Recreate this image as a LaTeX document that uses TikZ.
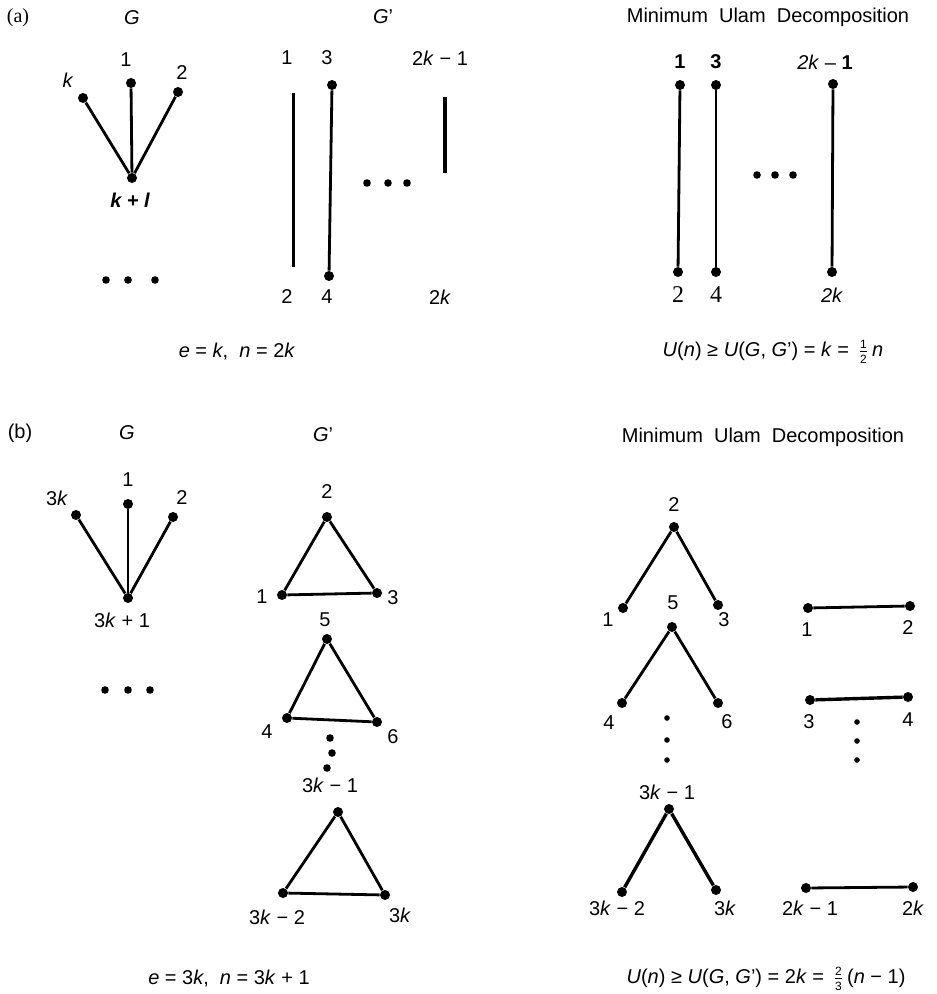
\documentclass[tikz,border=0pt]{standalone}
\usepackage{fontspec}
\setmainfont{Liberation Sans}
\newfontfamily\serifnum{Liberation Serif}
\usepackage{tikz}
\usetikzlibrary{positioning}
\newcommand{\tfr}[2]{\hspace{1.5pt}$\frac{\mbox{\fontsize{6}{6}\selectfont #1}}{\mbox{\fontsize{6}{6}\selectfont #2}}$\hspace{1.5pt}}

\begin{document}
\begin{tikzpicture}[x=0.5pt,y=-0.5pt,font=\fontsize{10}{12}\selectfont,
    vtx/.style={circle, fill=black, inner sep=0pt, minimum size=5pt},
    dotv/.style={circle, fill=black, inner sep=0pt, minimum size=3.8pt},
    sdot/.style={circle, fill=black, inner sep=0pt, minimum size=2.8pt},
    lbl/.style={inner sep=0pt},
    edg/.style={line width=1.4pt}]
  \useasboundingbox (0,0) rectangle (936,994);
  % ---------- (a) headings ----------
  \node[lbl] (alab) at (18,18)  {\serifnum (a)};
  \node[lbl] (aG)   at (132,18) {\textit{G}};
  \node[lbl] (aGp)  at (383,17) {\textit{G}'};
  \node[lbl] (amud) at (768,17) {Minimum\ \ Ulam\ \ Decomposition};
  % ---------- (a) G: star ----------
  \node[vtx] (ac) at (132,178) {};
  \node[vtx] (ak) at (83,98)   {};
  \node[vtx] (a1) at (131,83)  {};
  \node[vtx] (a2) at (178,92)  {};
  \draw[edg] (ak) -- (ac);
  \draw[edg] (a1) -- (ac);
  \draw[edg] (a2) -- (ac);
  \node[lbl] (akl) at (68,80)   {\textit{k}};
  \node[lbl] (a1l) at (126,60)  {1};
  \node[lbl] (a2l) at (182,73)  {2};
  \node[lbl] (acl) at (130,200) {\bfseries\itshape k + l};
  \node[dotv] (ad1) at (106,280) {};
  \node[dotv] (ad2) at (128,280) {};
  \node[dotv] (ad3) at (155,280) {};
  % ---------- (a) G': matching ----------
  \coordinate (g12t) at (293,93);
  \coordinate (g12b) at (293,267);
  \draw[line width=1.5pt] (g12t) -- (g12b);
  \node[lbl] (g1l) at (287,58)  {1};
  \node[lbl] (g2l) at (287,297) {2};
  \node[vtx] (g3) at (332,85)  {};
  \node[vtx] (g4) at (329,276) {};
  \draw[edg] (g3) -- (g4);
  \node[lbl] (g3l) at (327,58)  {3};
  \node[lbl] (g4l) at (327,297) {4};
  \coordinate (gkt) at (445,97);
  \coordinate (gkb) at (445,173);
  \draw[line width=1.7pt] (gkt) -- (gkb);
  \node[lbl] (gk1l) at (440,58)  {2\textit{k} − 1};
  \node[lbl] (gkl)  at (440,297) {2\textit{k}};
  \node[dotv] (gd1) at (367,183) {};
  \node[dotv] (gd2) at (388,183) {};
  \node[dotv] (gd3) at (407,183) {};
  % ---------- (a) decomposition ----------
  \node[vtx] (m1)  at (680,85)  {};
  \node[vtx] (m2)  at (678,272) {};
  \node[vtx] (m3)  at (716,85)  {};
  \node[vtx] (m4)  at (716,272) {};
  \node[vtx] (mk1) at (833,84)  {};
  \node[vtx] (mk)  at (832,272) {};
  \draw[edg] (m1) -- (m2);
  \draw[edg] (m3) -- (m4);
  \draw[edg] (mk1) -- (mk);
  \node[lbl] (m1l)  at (680,62)  {\textbf{1}};
  \node[lbl] (m3l)  at (716,62)  {\textbf{3}};
  \node[lbl] (mk1l) at (825,62)  {\textit{2k} – \textbf{1}};
  \node[lbl] (m2l)  at (678,295) {\serifnum\fontsize{12}{12}\selectfont 2};
  \node[lbl] (m4l)  at (716,295) {\serifnum\fontsize{12}{12}\selectfont 4};
  \node[lbl] (mkl)  at (832,295) {\textit{2k}};
  \node[dotv] (md1) at (757,175) {};
  \node[dotv] (md2) at (775,175) {};
  \node[dotv] (md3) at (793,175) {};
  % ---------- (a) formulas ----------
  \node[lbl] (afl) at (237,352) {\textit{e} = \textit{k},\ \ \textit{n} = 2\textit{k}};
  \node[lbl] (afr) at (773,352) {\textit{U}(\textit{n}) ≥ \textit{U}(\textit{G}, \textit{G}') = \textit{k} = \tfr{1}{2}\textit{n}};
  % ---------- (b) headings ----------
  \node[lbl] (blab) at (20,433)  {(b)};
  \node[lbl] (bG)   at (127,433) {\textit{G}};
  \node[lbl] (bGp)  at (323,435) {\textit{G}'};
  \node[lbl] (bmud) at (763,437) {Minimum\ \ Ulam\ \ Decomposition};
  % ---------- (b) G: star ----------
  \node[vtx] (bc)  at (128,598) {};
  \node[vtx] (bk)  at (76,515)  {};
  \node[vtx] (b1)  at (128,504) {};
  \node[vtx] (b2)  at (173,517) {};
  \draw[edg] (bk) -- (bc);
  \draw[edg] (b1) -- (bc);
  \draw[edg] (b2) -- (bc);
  \node[lbl] (bkl) at (57,498)  {3\textit{k}};
  \node[lbl] (b1l) at (128,480) {1};
  \node[lbl] (b2l) at (182,498) {2};
  \node[lbl] (bcl) at (122,620) {3\textit{k} + 1};
  \node[dotv] (bd1) at (105,690) {};
  \node[dotv] (bd2) at (128,690) {};
  \node[dotv] (bd3) at (150,690) {};
  % ---------- (b) G': triangles ----------
  \node[vtx] (t1a) at (282,595) {};
  \node[vtx] (t1b) at (327,517) {};
  \node[vtx] (t1c) at (377,593) {};
  \draw[edg] (t1a) -- (t1b) -- (t1c) -- (t1a);
  \node[lbl] (t1al) at (262,597) {1};
  \node[lbl] (t1bl) at (327,492) {2};
  \node[lbl] (t1cl) at (393,598) {3};
  \node[vtx] (t2a) at (287,718) {};
  \node[vtx] (t2b) at (327,639) {};
  \node[vtx] (t2c) at (377,722) {};
  \draw[edg] (t2a) -- (t2b) -- (t2c) -- (t2a);
  \node[lbl] (t2al) at (267,732) {4};
  \node[lbl] (t2bl) at (325,620) {5};
  \node[lbl] (t2cl) at (393,737) {6};
  \node[dotv] (td1) at (330,738) {};
  \node[dotv] (td2) at (332,753) {};
  \node[dotv] (td3) at (327,768) {};
  \node[vtx] (t3a) at (283,893) {};
  \node[vtx] (t3b) at (338,812) {};
  \node[vtx] (t3c) at (385,895) {};
  \draw[edg] (t3a) -- (t3b) -- (t3c) -- (t3a);
  \node[lbl] (t3al) at (277,917) {3\textit{k} − 2};
  \node[lbl] (t3bl) at (330,785) {3\textit{k} − 1};
  \node[lbl] (t3cl) at (400,915) {3\textit{k}};
  % ---------- (b) decomposition: wedges ----------
  \node[vtx] (w1a) at (623,608) {};
  \node[vtx] (w1b) at (674,527) {};
  \node[vtx] (w1c) at (718,605) {};
  \draw[edg] (w1a) -- (w1b) -- (w1c);
  \node[lbl] (w1al) at (608,620) {1};
  \node[lbl] (w1bl) at (674,505) {2};
  \node[lbl] (w1cl) at (724,620) {3};
  \node[vtx] (w2a) at (622,703) {};
  \node[vtx] (w2b) at (672,627) {};
  \node[vtx] (w2c) at (718,703) {};
  \draw[edg] (w2a) -- (w2b) -- (w2c);
  \node[lbl] (w2al) at (609,723) {4};
  \node[lbl] (w2bl) at (673,603) {5};
  \node[lbl] (w2cl) at (727,722) {6};
  \node[sdot] (wd1) at (667,718) {};
  \node[sdot] (wd2) at (667,740) {};
  \node[sdot] (wd3) at (667,760) {};
  \node[vtx] (w3a) at (622,892) {};
  \node[vtx] (w3b) at (669,809) {};
  \node[vtx] (w3c) at (716,890) {};
  \draw[line width=1.7pt] (w3a) -- (w3b) -- (w3c);
  \node[lbl] (w3al) at (617,908) {3\textit{k} − 2};
  \node[lbl] (w3bl) at (667,792) {3\textit{k} − 1};
  \node[lbl] (w3cl) at (725,908) {3\textit{k}};
  % ---------- (b) decomposition: edges ----------
  \node[vtx] (e1a) at (808,608) {};
  \node[vtx] (e1b) at (910,606) {};
  \draw[edg] (e1a) -- (e1b);
  \node[lbl] (e1al) at (807,630) {1};
  \node[lbl] (e1bl) at (908,628) {2};
  \node[vtx] (e2a) at (810,700) {};
  \node[vtx] (e2b) at (908,697) {};
  \draw[line width=1.7pt] (e2a) -- (e2b);
  \node[lbl] (e2al) at (809,722) {3};
  \node[lbl] (e2bl) at (908,720) {4};
  \node[sdot] (ed1) at (857,722) {};
  \node[sdot] (ed2) at (857,741) {};
  \node[sdot] (ed3) at (857,760) {};
  \node[vtx] (e3a) at (806,888) {};
  \node[vtx] (e3b) at (913,887) {};
  \draw[edg] (e3a) -- (e3b);
  \node[lbl] (e3al) at (810,908) {2\textit{k} − 1};
  \node[lbl] (e3bl) at (913,908) {2\textit{k}};
  % ---------- (b) formulas ----------
  \node[lbl] (bfl) at (229,979) {\textit{e} = 3\textit{k},\ \ \textit{n} = 3\textit{k} + 1};
  \node[lbl] (bfr) at (766,979) {\textit{U}(\textit{n}) ≥ \textit{U}(\textit{G}, \textit{G}') = 2\textit{k} = \tfr{2}{3}(\textit{n} − 1)};
\end{tikzpicture}
\end{document}
